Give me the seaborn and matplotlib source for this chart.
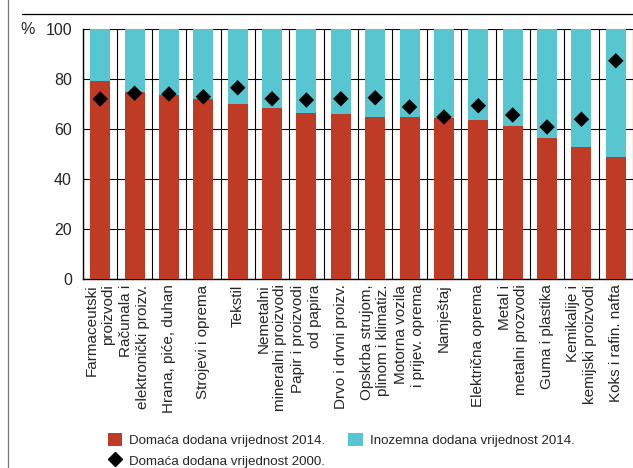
import numpy as np
import pandas as pd
import matplotlib.pyplot as plt
import seaborn as sns
from matplotlib.lines import Line2D
from matplotlib.patches import Patch

# ── Data ─────────────────────────────
CATEGORIES = [
    'Farmaceutski\nproizvodi',
    'Računala i\nelektronički proizv.',
    'Hrana, piće, duhan',
    'Strojevi i oprema',
    'Tekstil',
    'Nemetalni\nmineralni proizvodi',
    'Papir i proizvodi\nod papira',
    'Drvo i drvni proizv.',
    'Opskrba strujom,\nplinom i klimatiz.',
    'Motorna vozila\ni prijev. oprema',
    'Namještaj',
    'Električna oprema',
    'Metal i\nmetalni prozvodi',
    'Guma i plastika',
    'Kemikalije i\nkemijski proizvodi',
    'Koks i rafin. nafta',
]
domestic_2014 = [79.3, 74.8, 73.6, 72.0, 70.1, 68.5, 66.4, 65.9,
                 64.8, 64.7, 64.4, 63.7, 61.2, 56.5, 52.9, 48.7]
domestic_2000 = [72.0, 74.3, 74.0, 72.9, 76.5, 72.1, 71.6, 72.1,
                 72.5, 68.8, 64.8, 69.3, 65.6, 60.8, 63.9, 87.3]
TOTAL = 100

RED = '#C03B25'
CYAN = '#58C6D0'

df = pd.DataFrame({
    'sektor': CATEGORIES,
    'domaca': domestic_2014,
    'ukupno': [TOTAL] * len(CATEGORIES),
    'domaca2000': domestic_2000,
})

# ── Style ────────────────────────────
sns.set_style('white')
plt.rcParams['font.family'] = ['Liberation Sans Narrow', 'Liberation Sans', 'DejaVu Sans']

fig = plt.figure(figsize=(6.33, 4.68), dpi=100)
ax = fig.add_axes([83 / 633, 1 - 279 / 468, 550 / 633, 250 / 468])

# ── Bars ─────────────────────────────
sns.barplot(data=df, x='sektor', y='ukupno', color=CYAN, width=0.58,
            saturation=1, ax=ax, zorder=2, linewidth=0)
sns.barplot(data=df, x='sektor', y='domaca', color=RED, width=0.58,
            saturation=1, ax=ax, zorder=3, linewidth=0)
sns.scatterplot(data=df, x='sektor', y='domaca2000', marker='D', s=62,
                color='black', edgecolor='none', ax=ax, zorder=4)

# ── Axes ─────────────────────────────
n = len(CATEGORIES)
ax.set_xlim(-0.5, n - 0.5)
ax.set_ylim(0, 100)
ax.set_yticks([0, 20, 40, 60, 80, 100])
ax.set_xticks(np.arange(-0.5, n, 1), minor=True)
ax.grid(axis='y', which='major', color='black', lw=0.8, zorder=0)
ax.grid(axis='x', which='minor', color='black', lw=0.8, zorder=0)
ax.set_axisbelow(True)
ax.set_xlabel('')
ax.set_ylabel('')
ax.tick_params(axis='both', which='both', length=0)
ax.tick_params(axis='y', labelsize=11.5, pad=8)
ax.set_xticks(range(n))
ax.set_xticklabels(CATEGORIES, rotation=90, fontsize=11,
                   va='top', ha='center', multialignment='right')
ax.tick_params(axis='x', pad=4)
for side in ['left', 'bottom']:
    ax.spines[side].set_color('black')
    ax.spines[side].set_linewidth(1.0)
for side in ['top', 'right']:
    ax.spines[side].set_visible(False)

fig.text(28 / 633, 1 - 29 / 468, '%', fontsize=11.5, ha='center', va='center')

# ── Frame lines ──────────────────────
fig.add_artist(Line2D([22 / 633, 1], [1 - 14 / 468] * 2, color='black', lw=0.9))
fig.add_artist(Line2D([8 / 633] * 2, [0, 1], color='#777777', lw=0.9))

# ── Legend ───────────────────────────
handles = [
    Patch(facecolor=RED, edgecolor='none', label='Domaća dodana vrijednost 2014.'),
    Line2D([], [], marker='D', color='black', linestyle='none', markersize=7,
           label='Domaća dodana vrijednost 2000.'),
    Patch(facecolor=CYAN, edgecolor='none', label='Inozemna dodana vrijednost 2014.'),
]
fig.legend(handles=handles, ncol=2, frameon=False, fontsize=9.6,
           loc='lower left', bbox_to_anchor=(101 / 633, -0.014),
           handlelength=1.1, handleheight=1.1, handletextpad=0.5,
           columnspacing=1.75, labelspacing=0.5, borderpad=0)

plt.savefig('out.png', dpi=100, facecolor='white')
plt.close()
